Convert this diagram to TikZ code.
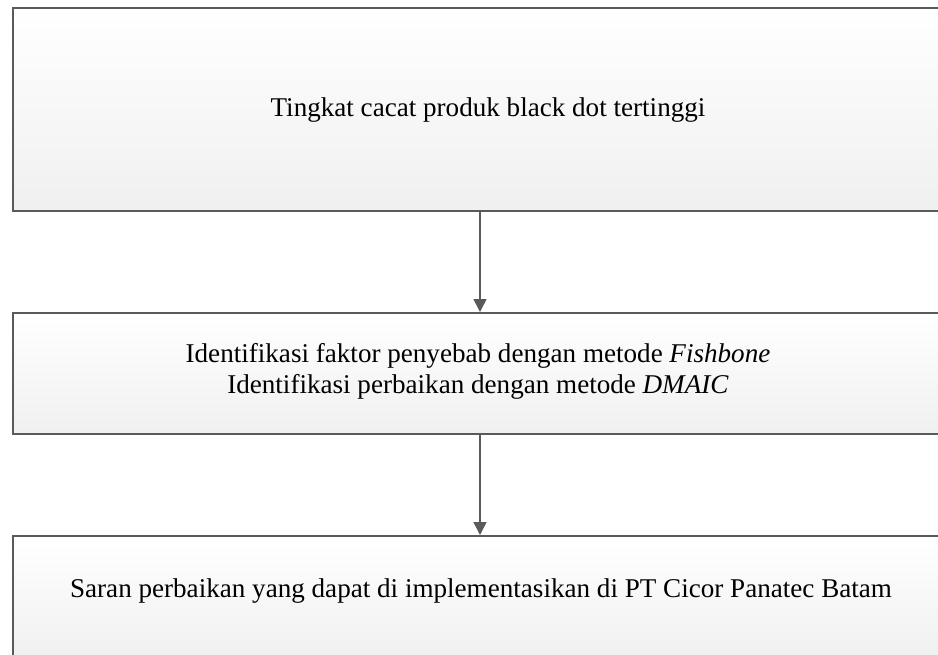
\documentclass[tikz,border=0pt]{standalone}
\usepackage{fontspec}
\setmainfont{Liberation Serif}
\usetikzlibrary{arrows.meta}
\definecolor{edge}{HTML}{5A5A5A}
\tikzset{
  flowbox/.style={draw=edge, line width=1.8pt, top color=white, bottom color=black!6,
    minimum width=938pt, inner sep=0pt, anchor=north west},
  flowtext/.style={font=\fontsize{27.1}{31}\selectfont, align=center, inner sep=0pt},
  flowarrow/.style={draw=edge, line width=1.5pt, -{Triangle[length=13pt,width=13pt]}}
}
\begin{document}
\begin{tikzpicture}[x=1pt,y=-1pt]
\useasboundingbox (0,0) rectangle (938,654);
\clip (0,0) rectangle (938,654);
\fill[white] (0,0) rectangle (938,654);
\node[flowbox, minimum height=203pt] (b1) at (12,7) {};
\node[flowbox, minimum height=121pt] (b2) at (12,312) {};
\node[flowbox, minimum height=125pt] (b3) at (12,535) {};
\node[flowtext] (t1) at (488,110) {Tingkat cacat produk black dot tertinggi};
\node[flowtext] (t2) at (478,371) {Identifikasi faktor penyebab dengan metode \textit{Fishbone}\\Identifikasi perbaikan dengan metode \textit{DMAIC}};
\node[flowtext] (t3) at (481,591) {Saran perbaikan yang dapat di implementasikan di PT Cicor Panatec Batam};
\draw[flowarrow] (b1.south -| 480,0) -- (b2.north -| 480,0);
\draw[flowarrow] (b2.south -| 480,0) -- (b3.north -| 480,0);
\end{tikzpicture}
\end{document}
